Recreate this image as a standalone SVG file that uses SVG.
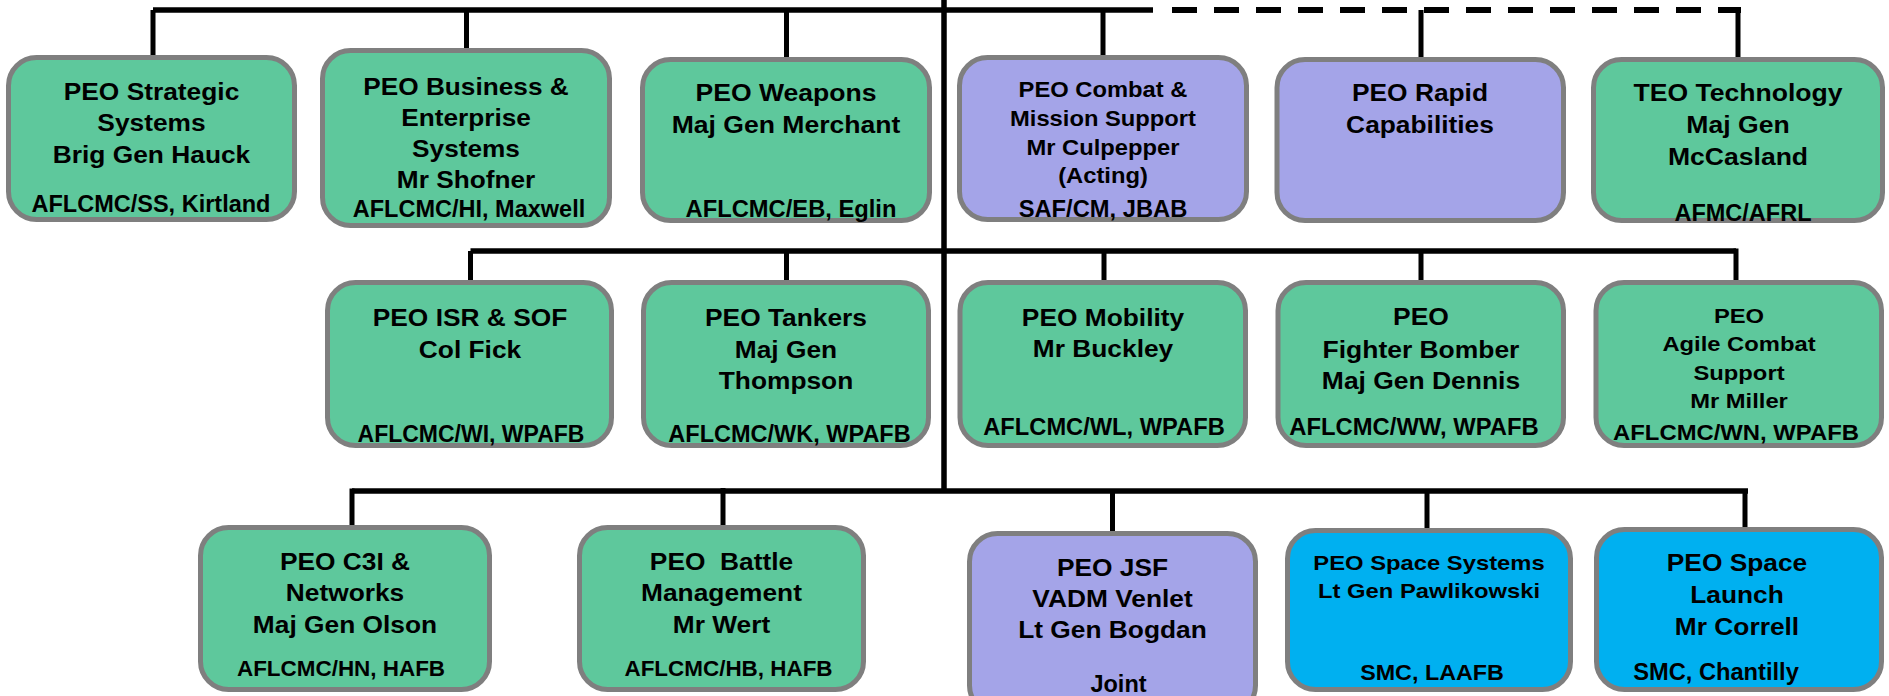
<svg xmlns="http://www.w3.org/2000/svg" width="1889" height="696" viewBox="0 0 1889 696">
<style>
.box{stroke:#7f7f7f;stroke-width:5}
.g{fill:#5ec89c}
.p{fill:#a4a4e8}
.b{fill:#00b0f0}
.t{font-family:"Liberation Sans",Arial,Helvetica,sans-serif;font-weight:700;text-anchor:middle;fill:#000}
.ln{stroke:#000;stroke-width:5.5;fill:none}
.dr{stroke:#000;stroke-width:5;fill:none}
.da{stroke:#000;stroke-width:6;fill:none;stroke-dasharray:25 17}
</style>
<rect width="1889" height="696" fill="#fff"/>
<g id="connectors">
<path class="ln" d="M944,0 V491"/>
<path class="ln" d="M153,10 H1153"/>
<path class="da" d="M1172,10 H1741"/>
<path class="dr" d="M153,10 V55 M466.5,10 V48 M786.5,10 V57 M1103,10 V55 M1421,10 V57 M1738,7 V57"/>
<path class="ln" d="M470.5,251 H1736"/>
<path class="dr" d="M470.5,251 V280 M786.5,251 V280 M1104,251 V280 M1421,251 V280 M1736,248.5 V280"/>
<path class="ln" d="M352,491 H1748"/>
<path class="dr" d="M352,488.5 V525 M723,488 V525 M1112.5,491 V531 M1427,491 V528 M1745,491 V527"/>
</g>
<g id="peo-strategic">
<rect class="box g" x="8.5" y="57.5" width="286" height="162" rx="28"/>
<text class="t" font-size="23.3" transform="translate(151.5,0) scale(1.13,1)"><tspan x="0" y="100">PEO Strategic</tspan><tspan x="0" y="131.5">Systems</tspan><tspan x="0" y="163">Brig Gen Hauck</tspan></text>
<text class="t" font-size="23.5" x="151" y="211.5">AFLCMC/SS, Kirtland</text>
</g>
<g id="peo-business">
<rect class="box g" x="322.5" y="50.5" width="287" height="175" rx="28"/>
<text class="t" font-size="23" transform="translate(466,0) scale(1.14,1)"><tspan x="0" y="95">PEO Business &amp;</tspan><tspan x="0" y="126">Enterprise</tspan><tspan x="0" y="157">Systems</tspan><tspan x="0" y="188">Mr Shofner</tspan></text>
<text class="t" font-size="23.5" x="469" y="217">AFLCMC/HI, Maxwell</text>
</g>
<g id="peo-weapons">
<rect class="box g" x="642.5" y="59.5" width="287" height="161" rx="28"/>
<text class="t" font-size="23.3" transform="translate(786,0) scale(1.14,1)"><tspan x="0" y="101.5">PEO Weapons</tspan><tspan x="0" y="133">Maj Gen Merchant</tspan></text>
<text class="t" font-size="23.5" transform="translate(791,0) scale(1.01,1)" x="0" y="217">AFLCMC/EB, Eglin</text>
</g>
<g id="peo-combat">
<rect class="box p" x="959.5" y="57.5" width="287" height="162" rx="28"/>
<text class="t" font-size="22" transform="translate(1103,0) scale(1.08,1)"><tspan x="0" y="97">PEO Combat &amp;</tspan><tspan x="0" y="126">Mission Support</tspan><tspan x="0" y="155">Mr Culpepper</tspan><tspan x="0" y="183.5">(Acting)</tspan></text>
<text class="t" font-size="23.5" transform="translate(1103,0) scale(1.01,1)" x="0" y="217">SAF/CM, JBAB</text>
</g>
<g id="peo-rapid">
<rect class="box p" x="1277" y="59.5" width="286.5" height="161" rx="28"/>
<text class="t" font-size="23.3" transform="translate(1420,0) scale(1.13,1)"><tspan x="0" y="101.5">PEO Rapid</tspan><tspan x="0" y="133">Capabilities</tspan></text>
</g>
<g id="teo-technology">
<rect class="box g" x="1593.5" y="59.5" width="289" height="161" rx="28"/>
<text class="t" font-size="23.3" transform="translate(1738,0) scale(1.14,1)"><tspan x="0" y="101.5">TEO Technology</tspan><tspan x="0" y="133">Maj Gen</tspan><tspan x="0" y="165">McCasland</tspan></text>
<text class="t" font-size="23.5" x="1743" y="221">AFMC/AFRL</text>
</g>
<g id="peo-isr-sof">
<rect class="box g" x="327.5" y="282.5" width="284" height="163" rx="28"/>
<text class="t" font-size="23.3" transform="translate(470,0) scale(1.13,1)"><tspan x="0" y="326.5">PEO ISR &amp; SOF</tspan><tspan x="0" y="358">Col Fick</tspan></text>
<text class="t" font-size="23" x="471" y="441.5">AFLCMC/WI, WPAFB</text>
</g>
<g id="peo-tankers">
<rect class="box g" x="643.5" y="282.5" width="285" height="163" rx="28"/>
<text class="t" font-size="23.3" transform="translate(786,0) scale(1.13,1)"><tspan x="0" y="326.5">PEO Tankers</tspan><tspan x="0" y="358">Maj Gen</tspan><tspan x="0" y="389">Thompson</tspan></text>
<text class="t" font-size="23.5" x="789.5" y="441.5">AFLCMC/WK, WPAFB</text>
</g>
<g id="peo-mobility">
<rect class="box g" x="960" y="282.5" width="285.5" height="163" rx="28"/>
<text class="t" font-size="23.3" transform="translate(1103,0) scale(1.13,1)"><tspan x="0" y="326.5">PEO Mobility</tspan><tspan x="0" y="357">Mr Buckley</tspan></text>
<text class="t" font-size="23" transform="translate(1104,0) scale(1.03,1)" x="0" y="435">AFLCMC/WL, WPAFB</text>
</g>
<g id="peo-fighter-bomber">
<rect class="box g" x="1278" y="282.5" width="285.5" height="163" rx="28"/>
<text class="t" font-size="23" transform="translate(1421,0) scale(1.15,1)"><tspan x="0" y="325.5">PEO</tspan><tspan x="0" y="358">Fighter Bomber</tspan><tspan x="0" y="389">Maj Gen Dennis</tspan></text>
<text class="t" font-size="23" transform="translate(1414,0) scale(1.035,1)" x="0" y="435">AFLCMC/WW, WPAFB</text>
</g>
<g id="peo-agile-combat-support">
<rect class="box g" x="1596" y="282.5" width="285.5" height="163" rx="28"/>
<text class="t" font-size="20.5" transform="translate(1739,0) scale(1.16,1)"><tspan x="0" y="323">PEO</tspan><tspan x="0" y="351.5">Agile Combat</tspan><tspan x="0" y="380">Support</tspan><tspan x="0" y="408">Mr Miller</tspan></text>
<text class="t" font-size="22.5" transform="translate(1736,0) scale(1.06,1)" x="0" y="440">AFLCMC/WN, WPAFB</text>
</g>
<g id="peo-c3i-networks">
<rect class="box g" x="200.5" y="527.5" width="289" height="162" rx="28"/>
<text class="t" font-size="23.3" transform="translate(345,0) scale(1.13,1)"><tspan x="0" y="570">PEO C3I &amp;</tspan><tspan x="0" y="601.5">Networks</tspan><tspan x="0" y="633">Maj Gen Olson</tspan></text>
<text class="t" font-size="22" transform="translate(341,0) scale(1.02,1)" x="0" y="676">AFLCMC/HN, HAFB</text>
</g>
<g id="peo-battle-management">
<rect class="box g" x="579.5" y="527.5" width="284" height="162" rx="28"/>
<text class="t" font-size="23.3" transform="translate(721.5,0) scale(1.13,1)"><tspan x="0" y="570">PEO&#160; Battle</tspan><tspan x="0" y="601.5">Management</tspan><tspan x="0" y="633">Mr Wert</tspan></text>
<text class="t" font-size="22" transform="translate(728.5,0) scale(1.02,1)" x="0" y="676">AFLCMC/HB, HAFB</text>
</g>
<g id="peo-jsf">
<rect class="box p" x="969.5" y="533.5" width="286" height="180" rx="28"/>
<text class="t" font-size="23.3" transform="translate(1112.5,0) scale(1.13,1)"><tspan x="0" y="576">PEO JSF</tspan><tspan x="0" y="607">VADM Venlet</tspan><tspan x="0" y="638">Lt Gen Bogdan</tspan></text>
<text class="t" font-size="23.5" x="1118.5" y="691.5">Joint</text>
</g>
<g id="peo-space-systems">
<rect class="box b" x="1287.5" y="530.5" width="283" height="159" rx="28"/>
<text class="t" font-size="19.5" transform="translate(1429,0) scale(1.22,1)"><tspan x="0" y="570">PEO Space Systems</tspan><tspan x="0" y="598">Lt Gen Pawlikowski</tspan></text>
<text class="t" font-size="22" transform="translate(1432,0) scale(1.06,1)" x="0" y="680">SMC, LAAFB</text>
</g>
<g id="peo-space-launch">
<rect class="box b" x="1596.5" y="529.5" width="285" height="160" rx="28"/>
<text class="t" font-size="23.3" transform="translate(1737,0) scale(1.13,1)"><tspan x="0" y="571.5">PEO Space</tspan><tspan x="0" y="603">Launch</tspan><tspan x="0" y="635">Mr Correll</tspan></text>
<text class="t" font-size="23" transform="translate(1716,0) scale(1.03,1)" x="0" y="680">SMC, Chantilly</text>
</g>
</svg>
